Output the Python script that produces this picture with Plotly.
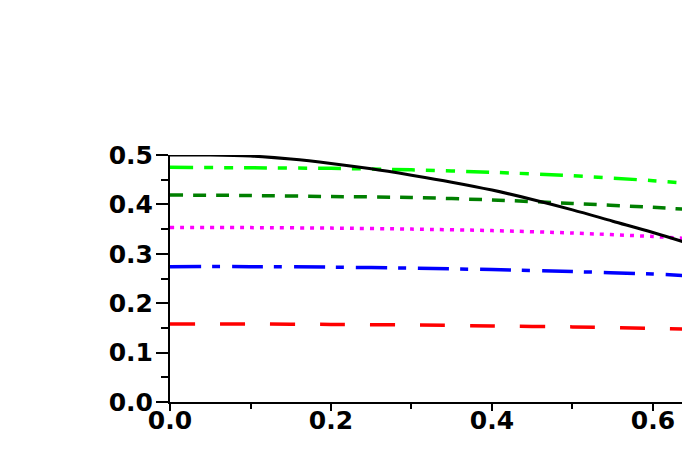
import plotly.graph_objects as go

x_black = [0.0, 0.05, 0.1, 0.15, 0.2, 0.25, 0.3, 0.35, 0.4, 0.45, 0.5, 0.55, 0.6, 0.65]
y_black = [0.5, 0.5, 0.498, 0.492, 0.483, 0.472, 0.459, 0.445, 0.429, 0.41, 0.389, 0.366, 0.343, 0.318]

x_c = [0.0, 0.1, 0.2, 0.3, 0.4, 0.5, 0.6, 0.65]
y_lime = [0.475, 0.474, 0.473, 0.470, 0.465, 0.458, 0.448, 0.442]
y_dgreen = [0.419, 0.418, 0.416, 0.414, 0.409, 0.402, 0.394, 0.389]
y_magenta = [0.353, 0.353, 0.352, 0.350, 0.347, 0.342, 0.335, 0.330]
y_blue = [0.274, 0.274, 0.273, 0.271, 0.268, 0.264, 0.259, 0.255]
y_red = [0.158, 0.158, 0.157, 0.156, 0.154, 0.152, 0.149, 0.147]

x_range = [0, 0.646]
y_range = [0, 0.5]

fig = go.Figure()
series = [
    (y_red, "#FF0000", "25px,25px", 3.5),
    (y_blue, "#0000FF", "31px,11px,8px,12px", 3.5),
    (y_magenta, "#FF00FF", "4px,6px", 3.5),
    (y_dgreen, "#007F00", "13px,10px", 3.5),
    (y_lime, "#00FF00", "23px,11px,9px,11px,9px,11px", 3.5),
]
for ys, col, dash, w in series:
    fig.add_trace(go.Scatter(x=x_c, y=ys, mode="lines", showlegend=False,
                             line=dict(color=col, width=w, dash=dash, shape="spline", smoothing=0.8)))
fig.add_trace(go.Scatter(x=x_black, y=y_black, mode="lines", showlegend=False,
                         line=dict(color="#000000", width=3, shape="spline", smoothing=1.0)))

tickfont = dict(family="DejaVu Sans", size=25, color="#000000", weight="bold")
fig.update_layout(
    width=682, height=444,
    margin=dict(l=162, r=0, t=147, b=50, autoexpand=False),
    paper_bgcolor="white", plot_bgcolor="white",
    xaxis=dict(range=x_range, showgrid=False, zeroline=False, automargin=False,
               showline=True, linecolor="#000000", linewidth=2,
               ticks="outside", ticklen=7, tickwidth=2, tickcolor="#000000",
               tick0=0, dtick=0.2, tickformat=".1f", tickfont=tickfont,
               ticklabelstandoff=-12,
               minor=dict(dtick=0.1, tick0=0, ticks="outside", ticklen=5,
                          tickwidth=2, tickcolor="#000000")),
    xaxis2=dict(range=x_range, overlaying="x", side="top", showgrid=False,
                zeroline=False, showline=True, linecolor="#555555", linewidth=2,
                automargin=False,
                ticks="inside", ticklen=5, tickwidth=2, tickcolor="#333333",
                tick0=0, dtick=0.08, showticklabels=False),
    yaxis=dict(range=y_range, showgrid=False, zeroline=False, automargin=False,
               showline=True, linecolor="#000000", linewidth=2,
               ticks="outside", ticklen=12, tickwidth=2, tickcolor="#000000",
               tick0=0, dtick=0.1, tickformat=".1f", tickfont=tickfont,
               ticklabelstandoff=-2,
               minor=dict(dtick=0.05, tick0=0, ticks="outside", ticklen=7,
                          tickwidth=2, tickcolor="#000000")),
)
fig.write_html("out.html")
